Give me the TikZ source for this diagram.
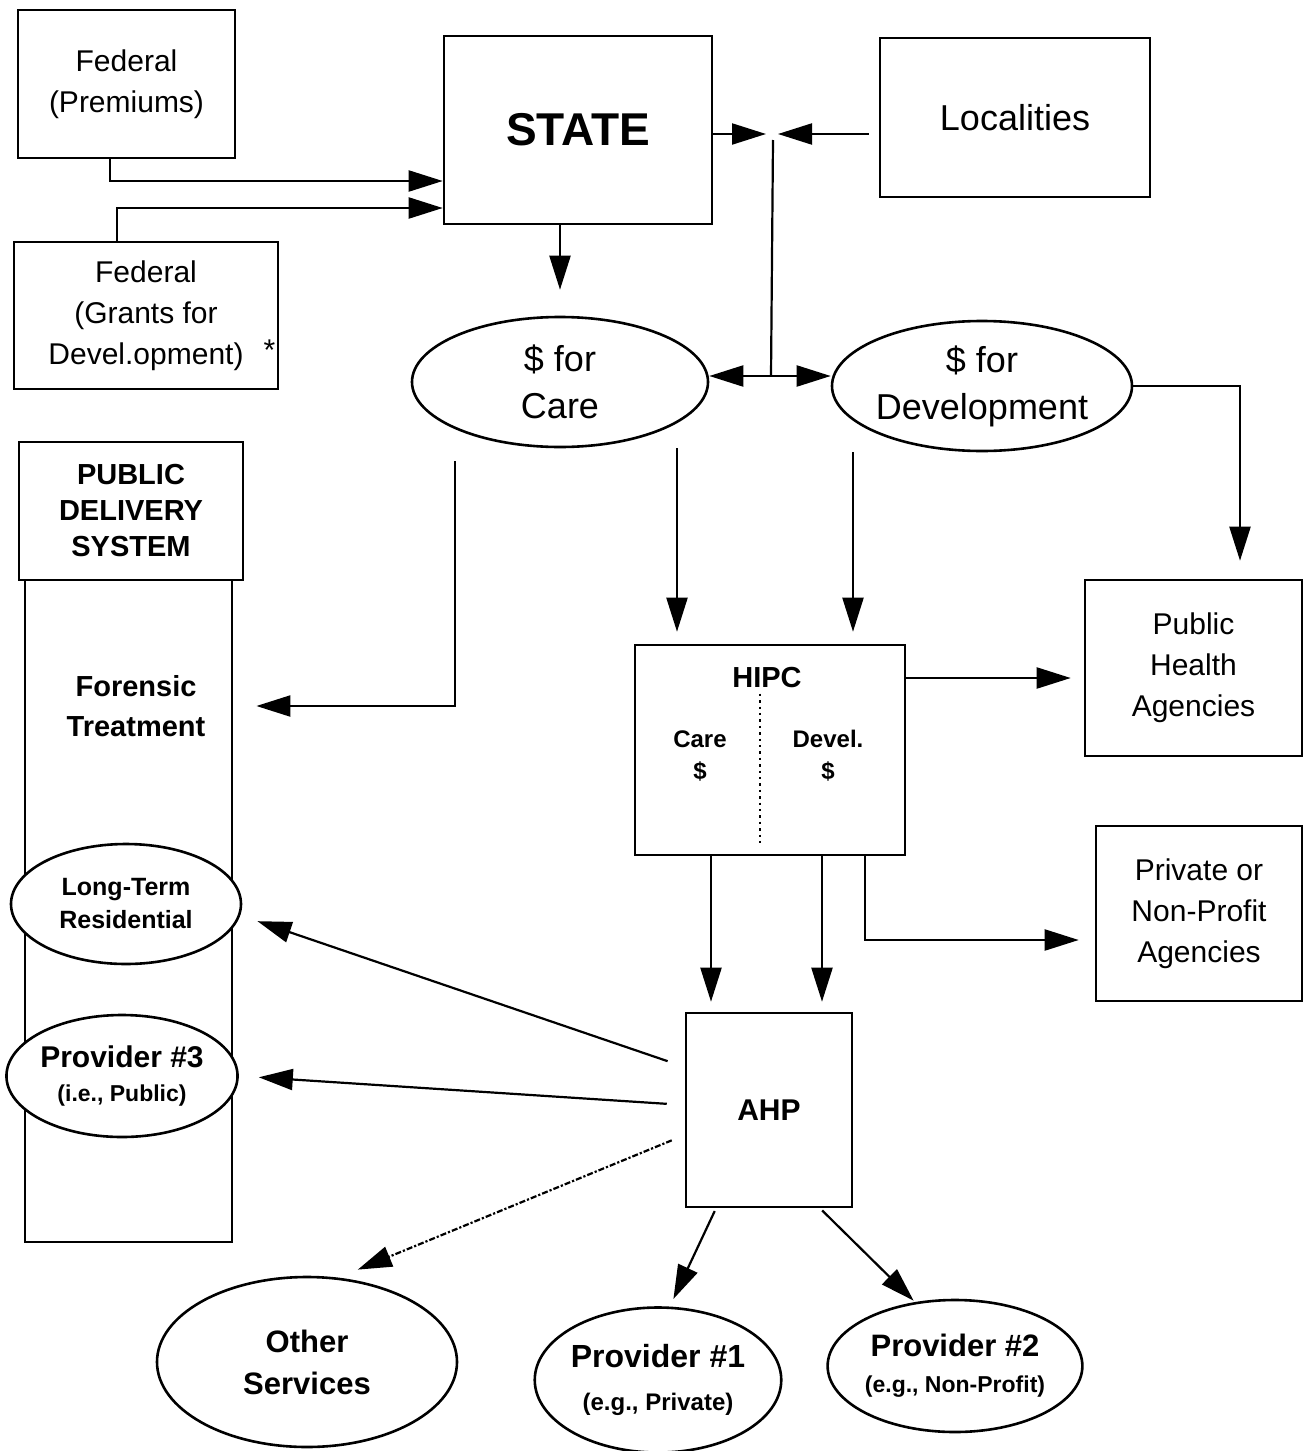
\documentclass[tikz,border=0pt]{standalone}
\usepackage{fontspec}
\setmainfont{Liberation Sans}
\usetikzlibrary{arrows.meta,shapes.geometric}

\tikzset{
  box/.style={draw,line width=1.3pt,inner sep=0pt,align=center},
  oval/.style={draw,ellipse,line width=1.3pt,inner sep=0pt,align=center,fill=white},
  arr/.style={line width=1.1pt,-{Triangle[length=17pt,width=10.5pt]}},
  big/.style={font=\fontsize{18}{23.5}\selectfont},
  mid/.style={font=\fontsize{15}{20.5}\selectfont},
  bmid/.style={font=\bfseries\fontsize{14.5}{18}\selectfont},
  small/.style={font=\bfseries\fontsize{12}{16}\selectfont,align=center}
}

\begin{document}
\begin{tikzpicture}[x=0.5pt,y=-0.5pt]
\useasboundingbox (0,0) rectangle (1304,1451);

\node[box,mid,minimum width=108.5pt,minimum height=74pt] (fedprem) at (126.5,84) {Federal\\(Premiums)};
\node[box,mid,minimum width=132pt,minimum height=73.5pt] (fedgrant) at (146,315.5) {Federal\\(Grants for\\Devel.opment)\rlap{\hspace{10pt}\raisebox{2pt}{*}}};
\node[box,font=\bfseries\fontsize{23}{28}\selectfont,minimum width=134pt,minimum height=94pt] (state) at (578,130) {STATE};
\node[box,big,minimum width=135pt,minimum height=79.5pt] (local) at (1015,117.5) {Localities};

\node[oval,big,minimum width=148pt,minimum height=65pt] (care) at (560,382) {\$ for\\Care};
\node[oval,big,minimum width=150pt,minimum height=65pt] (devel) at (982,386) {\$ for\\Development};

\node[box,mid,minimum width=108.5pt,minimum height=88pt] (pubhealth) at (1193.5,668) {Public\\Health\\Agencies};
\node[box,mid,minimum width=103pt,minimum height=87.5pt] (private) at (1199,913.5) {Private or\\Non-Profit\\Agencies};

\node[box,minimum width=135pt,minimum height=105pt] (hipc) at (770,750) {};
\node[bmid] (hipctitle) at (767,678) {HIPC};
\node[small] (hipccare) at (700,756) {Care\\\$};
\node[small] (hipcdevel) at (828,756) {Devel.\\\$};
\draw[line width=1.2pt,dotted] ([xshift=-5pt,yshift=-25pt]hipc.north) -- ([xshift=-5pt,yshift=5pt]hipc.south);

\node[box,minimum width=83pt,minimum height=97pt,font=\bfseries\fontsize{15}{18}\selectfont] (ahp) at (769,1110) {AHP};

\node[box,minimum width=103.5pt,minimum height=331pt] (column) at (128.5,911) {};
\node[box,bmid,fill=white,minimum width=112pt,minimum height=69pt] (pds) at (131,511) {PUBLIC\\DELIVERY\\SYSTEM};
\node[font=\bfseries\fontsize{14.5}{20}\selectfont,align=center,minimum width=120pt] (forensic) at (136,706) {Forensic\\Treatment};
\node[oval,font=\bfseries\fontsize{12.5}{16.5}\selectfont,minimum width=115pt,minimum height=60pt] (longterm) at (126,904) {Long-Term\\Residential};
\node[oval,font=\bfseries\fontsize{15}{17}\selectfont,minimum width=115pt,minimum height=61pt] (prov3) at (122,1076) {Provider \#3\\{\fontsize{11.5}{14}\selectfont (i.e., Public)}};

\node[oval,font=\bfseries\fontsize{15.5}{21}\selectfont,minimum width=150pt,minimum height=85pt] (other) at (307,1362) {Other\\Services};
\node[oval,font=\bfseries\fontsize{16}{21.5}\selectfont,minimum width=116pt,minimum height=72.5pt] (prov1) at (658,1380) {Provider \#1\\{\fontsize{12}{14}\selectfont (e.g., Private)}};
\node[oval,font=\bfseries\fontsize{15.5}{18}\selectfont,minimum width=119pt,minimum height=66pt] (prov2) at (955,1366) {Provider \#2\\{\fontsize{11.5}{14}\selectfont (e.g., Non-Profit)}};

\coordinate (hub) at (773,134);
\coordinate (split) at (771,376);

\draw[arr] ([xshift=-8.25pt]fedprem.south) |- ([yshift=-25.5pt]state.west);
\draw[arr] ([xshift=-14.5pt]fedgrant.north) |- ([yshift=-39pt]state.west);
\draw[arr,shorten >=13pt] (state.south -| care.north) -- (care.north);
\draw[arr,shorten >=3.5pt] (state.east |- hub) -- (hub);
\draw[arr,shorten <=5pt,shorten >=2.5pt] (local.west |- hub) -- (hub);
\draw[line width=1.1pt] ([yshift=-3pt]hub) -- (split);
\draw[arr] (split) -- (split -| care.east);
\draw[arr] (split) -- (split -| devel.west);
\draw[arr,shorten >=9pt] (devel.east) -| ([xshift=23.25pt]pubhealth.north);
\draw[arr] ([xshift=-52.5pt,yshift=-6.5pt]care.south) |- (forensic.east);
\draw[arr,shorten >=6pt] ([xshift=-46.5pt]hipc.north |- care.south) -- ([xshift=-46.5pt]hipc.north);
\draw[arr,shorten >=6pt] ([xshift=41.5pt]hipc.north |- devel.south) -- ([xshift=41.5pt]hipc.north);
\draw[arr,shorten >=6.5pt] (hipc.east |- hipctitle) -- (pubhealth.west |- hipctitle);
\draw[arr,shorten >=8pt] ([xshift=47.5pt]hipc.south) |- ([yshift=-13.25pt]private.west);
\draw[arr,shorten >=5pt] ([xshift=-29pt]ahp.north |- hipc.south) -- ([xshift=-29pt]ahp.north);
\draw[arr,shorten >=5pt] ([xshift=26.5pt]ahp.north |- hipc.south) -- ([xshift=26.5pt]ahp.north);
\draw[arr,shorten <=9pt,shorten >=8pt] ([yshift=21.5pt]ahp.west) -- ([yshift=-6pt]longterm.east);
\draw[arr,shorten <=9pt,shorten >=10pt] ([yshift=2.5pt]ahp.west) -- (prov3.east);
\draw[arr,densely dash dot,shorten <=7pt,shorten >=8pt] ([yshift=-12.5pt]ahp.west) -- ([xshift=18pt]other.north);
\draw[arr,shorten <=1.5pt,shorten >=4pt] ([xshift=-26.5pt]ahp.south) -- ([xshift=6pt]prov1.north);
\draw[arr,shorten <=1.5pt,shorten >=1pt] ([xshift=25.5pt]ahp.south) -- (prov2.122);
\end{tikzpicture}
\end{document}
